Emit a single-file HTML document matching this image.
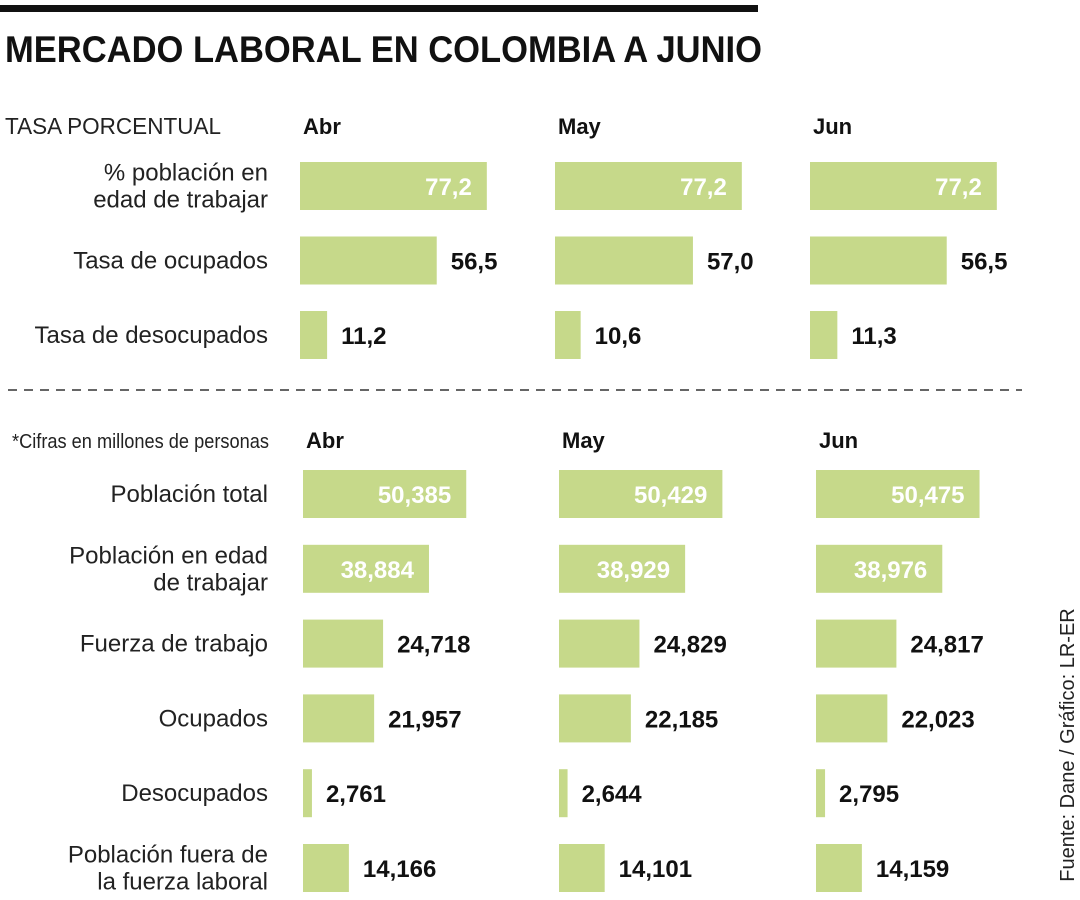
<!DOCTYPE html>
<html><head><meta charset="utf-8"><style>
body{margin:0;background:#fff;}
svg{display:block;font-family:"Liberation Sans",sans-serif;}
</style></head><body>
<svg id="c" width="1080" height="900">
<rect x="0" y="5" width="758" height="7" fill="#111"/>
<text x="5" y="62" font-size="37" font-weight="bold" fill="#111" textLength="757" lengthAdjust="spacingAndGlyphs">MERCADO LABORAL EN COLOMBIA A JUNIO</text>
<text x="5" y="134" font-size="23" fill="#222" textLength="216" lengthAdjust="spacingAndGlyphs">TASA PORCENTUAL</text>
<text x="12" y="448" font-size="20" fill="#222" textLength="257" lengthAdjust="spacingAndGlyphs">*Cifras en millones de personas</text>
<line x1="8" y1="390" x2="1022" y2="390" stroke="#333" stroke-width="1.5" stroke-dasharray="9,7"/>
<text transform="translate(1074,745) rotate(-90)" text-anchor="middle" font-size="20" fill="#222">Fuente: Dane / Gráfico: LR-ER</text>
</svg>
<script>
const months=["Abr","May","Jun"];
const rateLabels=[["% población en","edad de trabajar"],["Tasa de ocupados"],["Tasa de desocupados"]];
const rateAbr=[77.2,56.5,11.2];
const rateMay=[77.2,57.0,10.6];
const rateJun=[77.2,56.5,11.3];
const popLabels=[["Población total"],["Población en edad","de trabajar"],["Fuerza de trabajo"],["Ocupados"],["Desocupados"],["Población fuera de","la fuerza laboral"]];
const popAbr=[50.385,38.884,24.718,21.957,2.761,14.166];
const popMay=[50.429,38.929,24.829,22.185,2.644,14.101];
const popJun=[50.475,38.976,24.817,22.023,2.795,14.159];

const svg=document.getElementById('c');
const NS='http://www.w3.org/2000/svg';
function mk(tag,attrs,txt){const e=document.createElementNS(NS,tag);for(const k in attrs)e.setAttribute(k,attrs[k]);if(txt!==undefined)e.textContent=txt;svg.appendChild(e);return e;}
function fmtRate(v){return v.toFixed(1).replace('.',',');}
function fmtPop(v){return v.toFixed(3).replace('.',',');}

function section(labels,series,colX,headerY,rowY0,rowStep,scale,fmt,insideIdx){
  months.forEach((m,i)=>{
    const t=mk('text',{x:colX[i]+3,y:headerY,'font-size':22,'font-weight':'bold',fill:'#111'},m);
    
    
  });
  labels.forEach((lab,r)=>{
    const cy=rowY0+r*rowStep;
    const n=lab.length;
    lab.forEach((line,j)=>{
      const t=mk('text',{x:268,y:cy+8+(j-(n-1)/2)*27,'font-size':24,fill:'#222','text-anchor':'end'},line);
      
      
    });
    series.forEach((vals,i)=>{
      const w=vals[r]*scale;
      const b=mk('rect',{x:colX[i],y:cy-24,width:w,height:48,fill:'#c6d98a'});
      
      
      const inside=r<insideIdx;
      const t=mk('text',{x:inside?colX[i]+w-15:colX[i]+w+14,y:cy+9,'font-size':24,'font-weight':'bold',fill:inside?'#fff':'#111','text-anchor':inside?'end':'start'},fmt(vals[r]));
      
      
    });
  });
}
section(rateLabels,[rateAbr,rateMay,rateJun],[300,555,810],134,186,74.5,2.42,fmtRate,1);
section(popLabels,[popAbr,popMay,popJun],[303,559,816],448,494,74.8,3.24,fmtPop,2);
</script>
</body></html>
